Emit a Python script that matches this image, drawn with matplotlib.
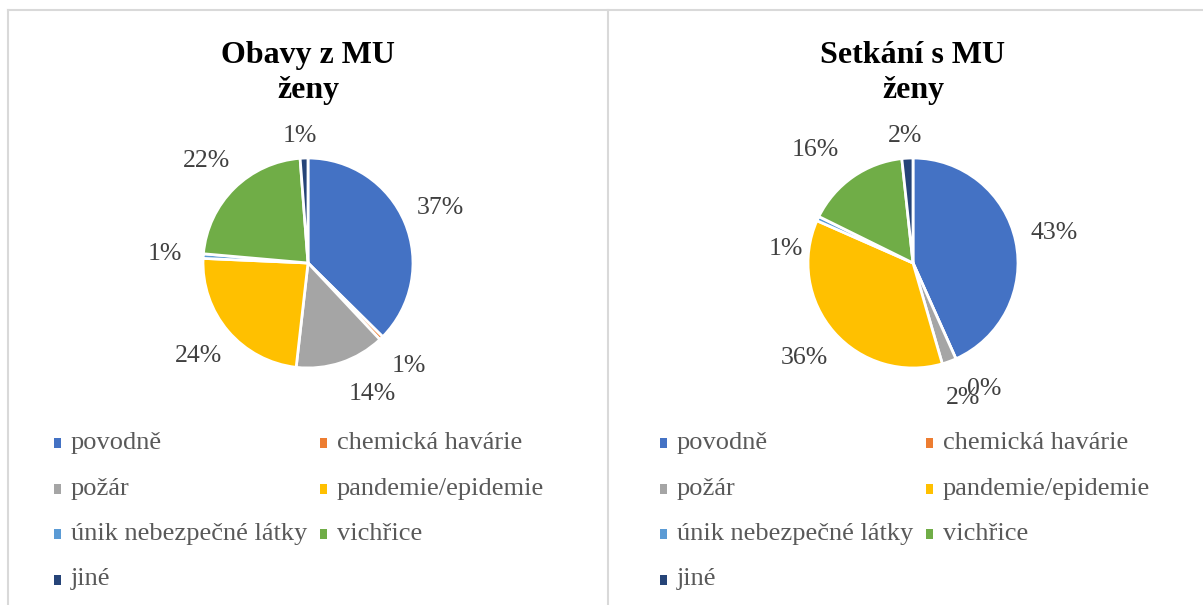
import matplotlib
matplotlib.use('Agg')
import matplotlib.pyplot as plt
from matplotlib.patches import Rectangle
from matplotlib.lines import Line2D

plt.rcParams['font.family'] = ['Liberation Serif', 'DejaVu Serif']

W, H = 1203, 605

categories = ['povodně', 'chemická havárie', 'požár', 'pandemie/epidemie',
              'únik nebezpečné látky', 'vichřice', 'jiné']
colors = ['#4472C4', '#ED7D31', '#A5A5A5', '#FFC000', '#5B9BD5', '#70AD47', '#264478']

titles = ['Obavy z MU\nženy', 'Setkání s MU\nženy']
obavy = [37.4, 0.6, 13.8, 23.9, 0.7, 22.4, 1.2]
setkani = [43.3, 0.0, 2.2, 36.1, 0.7, 16.0, 1.7]
series = [obavy, setkani]

# label nudges (radius units) where Excel's best-fit moved them
nudges = [
    {2: (0.18, 0.05), 6: (-0.03, -0.16)},
    {1: (0.12, 0.05), 4: (0.03, -0.45), 5: (-0.15, -0.05), 6: (0.0, -0.16)},
]

fig = plt.figure(figsize=(W / 100, H / 100), dpi=100)

# panel frames
grey = '#D9D9D9'
fig.add_artist(Line2D([8 / W, 1], [1 - 10 / H] * 2, color=grey, lw=1.5))
for xp in (8, 608):
    fig.add_artist(Line2D([xp / W] * 2, [0, 1 - 10 / H], color=grey, lw=1.5))

R = 105
LIM = 1.6
for k in range(2):
    off = 605 * k
    cx, cy = 308 + off, 263
    half = R * LIM
    ax = fig.add_axes([(cx - half) / W, 1 - (cy + half) / H, 2 * half / W, 2 * half / H])
    wedges, _, autotexts = ax.pie(series[k], colors=colors, startangle=90,
                                  counterclock=False, autopct='%.0f%%',
                                  pctdistance=1.37,
                                  wedgeprops=dict(edgecolor='white', linewidth=2),
                                  textprops=dict(fontsize=18.5, color='#404040'))
    for i, t in enumerate(autotexts):
        if i in nudges[k]:
            dx, dy = nudges[k][i]
            x, y = t.get_position()
            t.set_position((x + dx, y + dy))
        t.set_clip_on(False)
    ax.set_xlim(-LIM, LIM)
    ax.set_ylim(-LIM, LIM)
    ax.set_aspect('equal')
    ax.axis('off')

    fig.text(cx / W, 1 - 73 / H, titles[k], ha='center', va='center',
             fontsize=23, fontweight='bold', color='black', linespacing=1.3)

    # legend, row-major in two columns like Excel
    for i, (lab, col) in enumerate(zip(categories, colors)):
        row, c = divmod(i, 2)
        mx = 54 + 606 * k + c * 266
        my = 443 + row * 45.5
        fig.add_artist(Rectangle((mx / W, 1 - (my + 5) / H), 7 / W, 10 / H,
                                 facecolor=col, edgecolor='none'))
        fig.text((mx + 17) / W, 1 - my / H, lab, ha='left', va='center',
                 fontsize=19, color='#595959')

fig.savefig('out.png', dpi=100)
